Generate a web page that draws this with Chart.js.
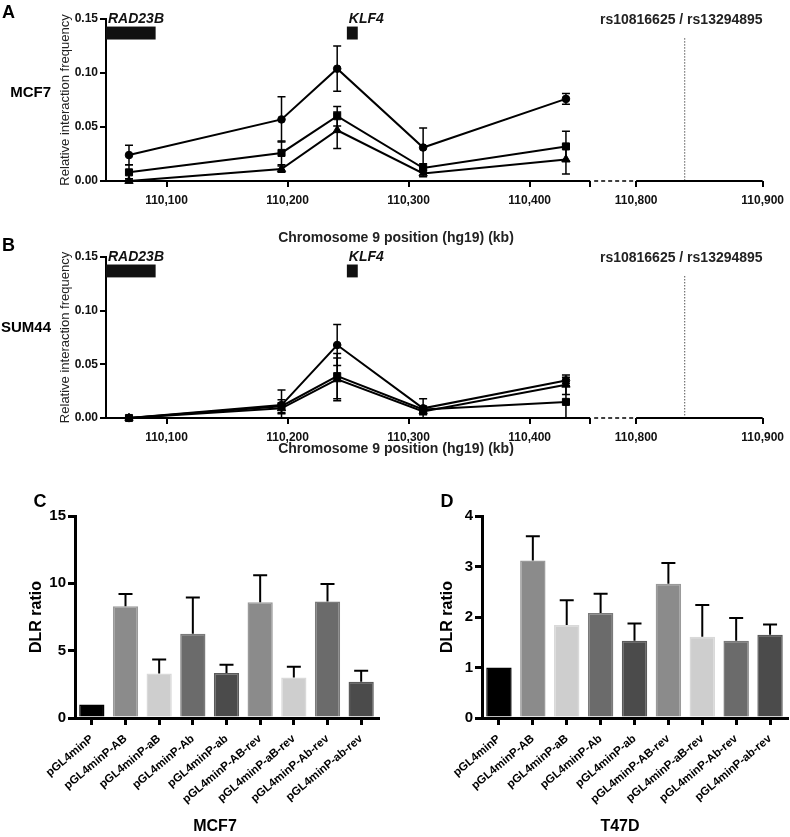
<!DOCTYPE html>
<html>
<head>
<meta charset="utf-8">
<script src="https://cdn.jsdelivr.net/npm/chart.js@4"></script>
<style>
body { margin: 0; background: #fff; }
#wrap { position: relative; width: 790px; height: 837px; }
canvas { position: absolute; }
</style>
</head>
<body>
<div id="wrap">
  <canvas id="chartA" width="790" height="245" style="left:0px;top:0px"></canvas>
  <canvas id="chartB" width="790" height="224" style="left:0px;top:236px"></canvas>
  <canvas id="chartC" width="395" height="367" style="left:0px;top:470px"></canvas>
  <canvas id="chartD" width="395" height="367" style="left:395px;top:470px"></canvas>
</div>
<script>
Chart.defaults.font.family = "'Liberation Sans', Arial, sans-serif"
Chart.defaults.color = '#000'

// 3C fragment positions (kb, hg19)
const fragmentKb = [110069, 110195, 110241, 110312, 110430]

// MCF7 relative interaction frequency (circle / square / triangle series)
const mcf7Circle = [0.024, 0.057, 0.104, 0.031, 0.076]
const mcf7CircleErr = [0.009, 0.021, 0.021, 0.018, 0.005]
const mcf7Square = [0.008, 0.026, 0.060, 0.012, 0.032]
const mcf7SquareErr = [0.007, 0.011, 0.009, 0.004, 0.014]
const mcf7Triangle = [0.000, 0.011, 0.047, 0.007, 0.020]
const mcf7TriangleErr = [0.002, 0.003, 0.017, 0.003, 0.0135]

// SUM44
const sum44Circle = [0.000, 0.012, 0.068, 0.009, 0.035]
const sum44CircleErr = [0, 0.014, 0.019, 0.009, 0.003]
const sum44Square = [0.000, 0.011, 0.039, 0.008, 0.015]
const sum44SquareErr = [0, 0.006, 0.021, 0.003, 0.015]
const sum44Triangle = [0.000, 0.009, 0.036, 0.006, 0.031]
const sum44TriangleErr = [0, 0.005, 0.020, 0.003, 0.009]

// genes and SNP on the locus
const geneNames = ['RAD23B', 'KLF4']
const geneStartKb = [110050, 110249]
const geneEndKb = [110091, 110258]
const snpKb = 110838
const snpLabel = 'rs10816625 / rs13294895'
const xTickKb = [110100, 110200, 110300, 110400, 110800, 110900]
const yTicksLocus = [0, 0.05, 0.10, 0.15]

// luciferase constructs
const constructs = ['pGL4minP', 'pGL4minP-AB', 'pGL4minP-aB', 'pGL4minP-Ab', 'pGL4minP-ab',
  'pGL4minP-AB-rev', 'pGL4minP-aB-rev', 'pGL4minP-Ab-rev', 'pGL4minP-ab-rev']
const mcf7Dlr = [1.0, 8.3, 3.3, 6.25, 3.35, 8.6, 3.0, 8.65, 2.7]
const mcf7DlrErr = [0, 0.9, 1.05, 2.7, 0.6, 2.0, 0.8, 1.3, 0.8]
const t47dDlr = [1.0, 3.12, 1.84, 2.08, 1.53, 2.66, 1.61, 1.53, 1.65]
const t47dDlrErr = [0, 0.48, 0.49, 0.38, 0.34, 0.41, 0.63, 0.45, 0.2]

const barFill = ['#000000', '#8b8b8b', '#cecece', '#6b6b6b', '#4b4b4b', '#8b8b8b', '#cecece', '#6b6b6b', '#4b4b4b']
const barEdge = ['#000000', '#9a9a9a', '#d9d9d9', '#7a7a7a', '#5a5a5a', '#9a9a9a', '#d9d9d9', '#7a7a7a', '#5a5a5a']

// broken axis: 110,050-110,450 kb, a gap, then 110,800-110,900 kb
const LEFT_START = 110050, LEFT_END = 110450, RIGHT_START = 110800, GAP = 38, RIGHT_STRETCH = 1.045
const toAxis = kb => kb <= LEFT_END
  ? kb - LEFT_START
  : (LEFT_END - LEFT_START) + GAP + (kb - RIGHT_START) * RIGHT_STRETCH
const axisMax = toAxis(110900)

const bold = size => `bold ${size}px 'Liberation Sans', Arial, sans-serif`

const locusPlugin = {
  id: 'locus',
  afterDraw(chart, args, opts) {
    const { ctx, chartArea: a, scales: { x, y } } = chart
    ctx.save()
    const y0 = y.getPixelForValue(0)
    const b1 = x.getPixelForValue(toAxis(LEFT_END))
    const b2 = x.getPixelForValue(toAxis(RIGHT_START))

    // broken x axis
    ctx.strokeStyle = '#000'
    ctx.lineWidth = 2
    ctx.beginPath()
    ctx.moveTo(a.left, y0); ctx.lineTo(b1, y0)
    ctx.moveTo(b2, y0); ctx.lineTo(a.right, y0)
    ctx.stroke()
    ctx.lineWidth = 1.5
    ctx.setLineDash([4, 3])
    ctx.beginPath()
    ctx.moveTo(b1 + 4, y0); ctx.lineTo(b2 - 3, y0)
    ctx.stroke()

    // SNP marker
    const sx = x.getPixelForValue(toAxis(snpKb))
    ctx.lineWidth = 1
    ctx.setLineDash([1, 2])
    ctx.beginPath()
    ctx.moveTo(sx + 0.5, y.getPixelForValue(0.132)); ctx.lineTo(sx + 0.5, y0)
    ctx.stroke()
    ctx.setLineDash([])

    // genes
    const top = y.getPixelForValue(0.15)
    ctx.fillStyle = '#111'
    ctx.textBaseline = 'middle'
    geneNames.forEach((g, i) => {
      const gx1 = x.getPixelForValue(toAxis(geneStartKb[i]))
      const gx2 = x.getPixelForValue(toAxis(geneEndKb[i]))
      const gy1 = y.getPixelForValue(0.143)
      const gy2 = y.getPixelForValue(0.131)
      ctx.fillRect(gx1, gy1, gx2 - gx1, gy2 - gy1)
      ctx.font = `italic ${bold(14)}`
      ctx.textAlign = 'left'
      ctx.fillText(g, gx1 + 2, top)
    })
    ctx.fillStyle = '#222'
    ctx.font = bold(14)
    ctx.textAlign = 'right'
    ctx.fillText(snpLabel, a.right, top + 1)

    // error bars
    ctx.strokeStyle = '#000'
    ctx.lineWidth = 1.5
    chart.data.datasets.forEach((ds, di) => {
      const meta = chart.getDatasetMeta(di)
      ds.errorBars.forEach((e, j) => {
        if (!e) return
        const px = meta.data[j].x
        const hi = y.getPixelForValue(ds.data[j].y + e)
        const lo = y.getPixelForValue(Math.max(0, ds.data[j].y - e))
        ctx.beginPath()
        ctx.moveTo(px, hi); ctx.lineTo(px, lo)
        ctx.moveTo(px - 4, hi); ctx.lineTo(px + 4, hi)
        ctx.moveTo(px - 4, lo); ctx.lineTo(px + 4, lo)
        ctx.stroke()
      })
    })

    // labels
    ctx.fillStyle = '#000'
    ctx.textAlign = 'left'
    ctx.font = bold(18)
    ctx.fillText(opts.letter, 2, opts.letterY)
    ctx.font = bold(15)
    ctx.textAlign = 'right'
    ctx.fillText(opts.cell, 51, opts.cellY)
    ctx.fillStyle = '#222'
    ctx.font = bold(14)
    ctx.textAlign = 'center'
    ctx.fillText('Chromosome 9 position (hg19) (kb)', 396, opts.titleY)
    ctx.restore()
  }
}

const lineSet = (vals, errs, style, radius) => ({
  data: fragmentKb.map((k, i) => ({ x: toAxis(k), y: vals[i] })),
  errorBars: errs,
  borderColor: '#000',
  borderWidth: 2,
  pointStyle: style,
  pointRadius: radius,
  pointBackgroundColor: '#000',
  pointBorderColor: '#000',
  pointBorderWidth: 1,
  tension: 0,
  clip: false
})

const renderLocusChart = (id, sets, labels, padTop, xHeight) => {
  new Chart(id, {
    type: 'line',
    data: {
      datasets: [
        lineSet(sets[0], sets[1], 'circle', 3.8),
        lineSet(sets[2], sets[3], 'rect', 5),
        lineSet(sets[4], sets[5], 'triangle', 4.8)
      ]
    },
    options: {
      responsive: false,
      animation: false,
      devicePixelRatio: 1,
      layout: { padding: { left: 54, top: padTop, right: 23, bottom: 0 } },
      plugins: { legend: { display: false }, tooltip: { enabled: false }, locus: labels },
      scales: {
        x: {
          type: 'linear',
          min: 0,
          max: axisMax,
          afterFit: s => { s.height = xHeight },
          afterBuildTicks: s => {
            s.ticks = xTickKb.map(toAxis).concat([toAxis(LEFT_END)]).sort((p, q) => p - q).map(v => ({ value: v }))
          },
          ticks: {
            autoSkip: false,
            maxRotation: 0,
            padding: 6,
            font: { size: 12, weight: 'bold' },
            color: '#111',
            callback: v => {
              const k = xTickKb.find(t => Math.abs(toAxis(t) - v) < 0.01)
              return k ? k.toLocaleString('en-US') : ''
            }
          },
          border: { display: false },
          grid: { drawOnChartArea: false, tickLength: 6, lineWidth: 2, color: '#000' }
        },
        y: {
          min: 0,
          max: 0.15,
          afterFit: s => { s.width = 52 },
          afterBuildTicks: s => { s.ticks = yTicksLocus.map(v => ({ value: v })) },
          ticks: { padding: 2, font: { size: 12, weight: 'bold' }, color: '#111', callback: v => v.toFixed(2) },
          title: { display: true, text: 'Relative interaction frequency', font: { size: 13 }, color: '#222' },
          border: { color: '#000', width: 2 },
          grid: { drawOnChartArea: false, tickLength: 6, lineWidth: 2, color: '#000' }
        }
      }
    },
    plugins: [locusPlugin]
  })
}

const barErrorPlugin = {
  id: 'barErr',
  afterDraw(chart, args, opts) {
    const { ctx, scales: { y } } = chart
    ctx.save()
    ctx.strokeStyle = '#000'
    ctx.lineWidth = 2
    chart.data.datasets.forEach((ds, di) => {
      const meta = chart.getDatasetMeta(di)
      ds.errorBars.forEach((e, j) => {
        if (!e) return
        const px = meta.data[j].x
        const hi = y.getPixelForValue(ds.data[j] + e)
        ctx.beginPath()
        ctx.moveTo(px, y.getPixelForValue(ds.data[j]))
        ctx.lineTo(px, hi)
        ctx.moveTo(px - 7, hi); ctx.lineTo(px + 7, hi)
        ctx.stroke()
      })
    })
    ctx.fillStyle = '#000'
    ctx.font = bold(18)
    ctx.textAlign = 'center'
    ctx.textBaseline = 'middle'
    ctx.fillText(opts.letter, opts.letterX, 32)
    ctx.font = bold(16)
    ctx.fillText(opts.cell, opts.cellX, 357)
    ctx.restore()
  }
}

const renderDlrChart = (id, vals, errs, yMax, padLeft, yWidth, padRight, labels) => {
  new Chart(id, {
    type: 'bar',
    data: {
      labels: constructs,
      datasets: [{
        data: vals,
        errorBars: errs,
        backgroundColor: barFill,
        borderColor: barEdge,
        borderWidth: 1.5,
        barPercentage: 0.75,
        categoryPercentage: 1
      }]
    },
    options: {
      responsive: false,
      animation: false,
      devicePixelRatio: 1,
      layout: { padding: { left: padLeft, top: 46, right: padRight, bottom: 0 } },
      plugins: { legend: { display: false }, tooltip: { enabled: false }, barErr: labels },
      scales: {
        x: {
          afterFit: s => { s.height = 119 },
          ticks: { autoSkip: false, minRotation: 40, maxRotation: 40, padding: 7, font: { size: 11.5, weight: 'bold' } },
          border: { color: '#000', width: 3 },
          grid: { drawOnChartArea: false, offset: false, tickLength: 7, lineWidth: 3, color: '#000' }
        },
        y: {
          min: 0,
          max: yMax,
          afterFit: s => { s.width = yWidth },
          ticks: { stepSize: yMax === 15 ? 5 : 1, padding: 2, font: { size: 15, weight: 'bold' } },
          title: { display: true, text: 'DLR ratio', font: { size: 16, weight: 'bold' } },
          border: { color: '#000', width: 3 },
          grid: { drawOnChartArea: false, tickLength: 7, lineWidth: 3, color: '#000' }
        }
      }
    },
    plugins: [barErrorPlugin]
  })
}

renderLocusChart('chartA',
  [mcf7Circle, mcf7CircleErr, mcf7Square, mcf7SquareErr, mcf7Triangle, mcf7TriangleErr],
  { letter: 'A', letterY: 13, cell: 'MCF7', cellY: 93, titleY: 238 }, 19, 64)
renderLocusChart('chartB',
  [sum44Circle, sum44CircleErr, sum44Square, sum44SquareErr, sum44Triangle, sum44TriangleErr],
  { letter: 'B', letterY: 10, cell: 'SUM44', cellY: 92, titleY: 213 }, 21, 42)
renderDlrChart('chartC', mcf7Dlr, mcf7DlrErr, 15, 23, 52, 17, { letter: 'C', letterX: 40, cell: 'MCF7', cellX: 215 })
renderDlrChart('chartD', t47dDlr, t47dDlrErr, 4, 39, 48, 3, { letter: 'D', letterX: 52, cell: 'T47D', cellX: 225 })
</script>
</body>
</html>
